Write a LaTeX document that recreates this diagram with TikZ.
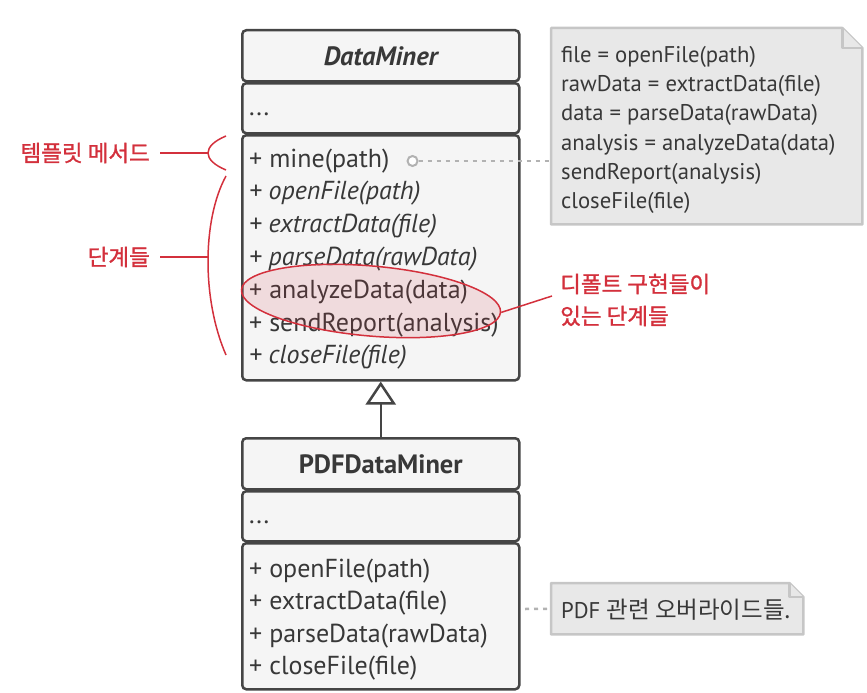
\documentclass[tikz,border=0pt]{standalone}
\usepackage{fontspec}
\usepackage{xcolor}
\usepackage{tikz}
\usetikzlibrary{positioning,shapes.geometric,arrows.meta}
\setmainfont{PT Sans}
\newfontfamily\krfont{Noto Sans CJK KR}
\newfontfamily\krmedium[FakeBold=1.2]{Noto Sans CJK KR}

\definecolor{umlline}{HTML}{454545}
\definecolor{umlfill}{HTML}{F5F5F5}
\definecolor{notefill}{HTML}{E8E8E8}
\definecolor{noteline}{HTML}{C6C6C6}
\definecolor{txt}{HTML}{383838}
\definecolor{annot}{HTML}{D3303C}

\tikzset{
  part/.style={draw=umlline, line width=2.5pt, fill=umlfill, rounded corners=4pt,
    minimum width=277pt, anchor=north west, inner sep=0pt},
  member/.style={anchor=west, inner sep=0pt, text=txt, font=\fontsize{26}{30}\selectfont},
  abstr/.style={member, font=\fontsize{26}{30}\selectfont\itshape},
  notebox/.style={anchor=north west, inner sep=0pt},
  notepath/.style={draw=noteline, fill=notefill, line width=2.5pt, line join=round},
  notetext/.style={text=txt, inner sep=0pt, align=left, font=\fontsize{22.7}{29.2}\selectfont},
  link/.style={draw=noteline!90!black, line width=2.5pt, dash pattern=on 4pt off 5pt},
  remark/.style={text=annot, inner sep=0pt, font=\krmedium\fontsize{22.5}{32}\selectfont},
  remarkline/.style={draw=annot, line width=1.5pt},
}

\begin{document}
\begin{tikzpicture}[x=1pt, y=-1pt]
  \useasboundingbox (0,0) rectangle (867,693);

  % DataMiner
  \node[part, minimum height=51pt] (dmHead) at (241,29) {};
  \node[part, minimum height=50pt] (dmAttr) at (241,82) {};
  \node[part, minimum height=245pt] (dmOps) at (241,134) {};
  \node[text=txt, font=\fontsize{26.5}{30}\selectfont\bfseries\itshape] (dmName) at ([yshift=-1pt]dmHead) {DataMiner};
  \node[member] (dmDots) at (249,114) {...};

  \node[member]  (mine)    at (249,161) {+ mine(path)};
  \node[abstr]   (open)    at (249,193) {+ openFile(path)};
  \node[abstr]   (extract) at (249,226) {+ extractData(file)};
  \node[abstr]   (parse)   at (249,259) {+ parseData(rawData)};
  \node[member]  (analyze) at (249,292) {+ analyzeData(data)};
  \node[member]  (report)  at (249,325) {+ sendReport(analysis)};
  \node[abstr]   (close)   at (249,357) {+ closeFile(file)};

  % PDFDataMiner
  \node[part, minimum height=51pt] (pdfHead) at (241,437) {};
  \node[part, minimum height=50pt] (pdfAttr) at (241,490) {};
  \node[part, minimum height=146pt] (pdfOps) at (241,542) {};
  \node[text=txt, font=\fontsize{26.5}{30}\selectfont\bfseries] (pdfName) at ([yshift=-1pt]pdfHead) {PDFDataMiner};
  \node[member] (pdfDots) at (249,522) {...};

  \node[member] (pdfOpen)    at (249,571) {+ openFile(path)};
  \node[member] (pdfExtract) at (249,603) {+ extractData(file)};
  \node[member] (pdfParse)   at (249,636) {+ parseData(rawData)};
  \node[member] (pdfClose)   at (249,668) {+ closeFile(file)};

  % Inheritance
  \draw[draw=umlline, line width=2.5pt, -{Triangle[open, length=23pt, width=30pt]}]
    (pdfHead.north) -- (dmOps.south);

  % Note for mine()
  \node[notebox, minimum width=311pt, minimum height=196pt] (mineNote) at (551,28) {};
  \draw[notepath] (mineNote.north west) -- ([xshift=-20pt]mineNote.north east)
    -- ([yshift=-20pt]mineNote.north east) -- (mineNote.south east)
    -- (mineNote.south west) -- cycle;
  \draw[notepath] ([xshift=-20pt]mineNote.north east) -- ([xshift=-20pt, yshift=-20pt]mineNote.north east)
    -- ([yshift=-20pt]mineNote.north east);
  \node[notetext, anchor=west] (mineCode) at (561,130)
    {file = openFile(path)\\rawData = extractData(file)\\data = parseData(rawData)\\
     analysis = analyzeData(data)\\sendReport(analysis)\\closeFile(file)};

  \node[circle, draw=noteline!90!black, fill=white, line width=2pt, minimum size=10pt, inner sep=0pt,
    right=17pt of mine] (mineDot) {};
  \draw[link] (mineDot.east) -- (mineDot.east -| mineNote.west);

  % Note for PDFDataMiner
  \node[notebox, minimum width=252pt, minimum height=51pt] (pdfNote) at (551,583) {};
  \draw[notepath] (pdfNote.north west) -- ([xshift=-14pt]pdfNote.north east)
    -- ([yshift=-14pt]pdfNote.north east) -- (pdfNote.south east)
    -- (pdfNote.south west) -- cycle;
  \draw[notepath] ([xshift=-14pt]pdfNote.north east) -- ([xshift=-14pt, yshift=-14pt]pdfNote.north east)
    -- ([yshift=-14pt]pdfNote.north east);
  \node[notetext, anchor=west] (pdfNoteText) at (561,610) {PDF {\krfont\fontsize{23.5}{29}\selectfont 관련 오버라이드들.}};
  \coordinate (pdfLinkStart) at (525,609);
  \draw[link] (pdfLinkStart) -- (pdfNote.west);

  % Default implementations
  \node[ellipse, draw=annot, fill=annot, fill opacity=0.13, line width=1.5pt,
    minimum width=260pt, minimum height=70pt, rotate=-5] (dflt) at (371,301) {};
  \node[remark, anchor=west, align=left] (dfltLabel) at (560,300) {디폴트 구현들이\\있는 단계들};
  \coordinate (dfltEnd) at (552,296);
  \draw[remarkline] (dflt.east) -- (dfltEnd);

  % Template method
  \node[remark, anchor=east] (tmplLabel) at (150,153) {템플릿 메서드};
  \coordinate (tmplTip) at (208,153);
  \draw[remarkline] (tmplLabel.east) ++(10pt,0) -- (tmplTip);
  \draw[remarkline] (226,136) .. controls (214,141) and (208,147) .. (tmplTip)
    .. controls (208,159) and (214,165) .. (226,170);

  % Steps
  \node[remark, anchor=east] (stepLabel) at (150,257) {단계들};
  \coordinate (stepTip) at (208,257);
  \draw[remarkline] (stepLabel.east) ++(10pt,0) -- (stepTip);
  \draw[remarkline] (226,176) .. controls (202,220) and (202,300) .. (226,355);
\end{tikzpicture}
\end{document}
